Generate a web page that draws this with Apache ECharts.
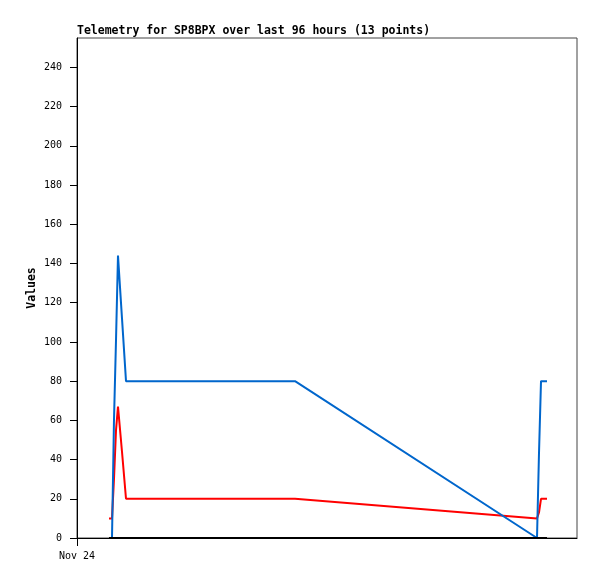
<!DOCTYPE html>
<html>
<head>
<meta charset="utf-8">
<script src="https://cdn.jsdelivr.net/npm/echarts@6/dist/echarts.min.js"></script>
<style>html,body{margin:0;padding:0;background:#fff;}#c{width:597px;height:579px;}</style>
</head>
<body>
<div id="c"></div>
<script>
// Hours since start of axis (Nov 24), 96-hour window
var hoursFromStart = [6.14, 6.72, 7.10, 7.49, 7.87, 8.64, 9.41, 41.86, 88.32, 88.70, 89.09, 89.66, 90.24];
var redValues   = [10, 10, 30, 55, 67, 44, 20, 20, 10, 13, 20, 20, 20];
var blueValues  = [0, 0, 60, 101, 144, 112, 80, 80, 0, 43, 80, 80, 80];
var blackValues = [0, 0, 0, 0, 0, 0, 0, 0, 0, 0, 0, 0, 0];
var yTicks = [0, 20, 40, 60, 80, 100, 120, 140, 160, 180, 200, 220, 240];
var xLabel = 'Nov 24';
var yName = 'Values';

function pairs(vals) { return hoursFromStart.map(function (h, i) { return [h, vals[i]]; }); }

var chart = echarts.init(document.getElementById('c'));
var mono = 'DejaVu Sans Mono';
chart.setOption({
  animation: false,
  backgroundColor: '#fff',
  title: {
    text: 'Telemetry for SP8BPX over last 96 hours (13 points)',
    left: 72, top: 20,
    textStyle: { fontFamily: mono, fontWeight: 'bold', fontSize: 11.5, color: '#000' }
  },
  graphic: [{
    type: 'text', x: 32, y: 288, rotation: Math.PI / 2,
    style: { text: yName, fontFamily: mono, fontWeight: 'bold', fontSize: 11.5, fill: '#000',
      align: 'center', verticalAlign: 'middle' }
  }],
  grid: { left: 77, right: 20, top: 38, bottom: 41, show: true, borderColor: '#444', borderWidth: 1 },
  xAxis: {
    type: 'value', min: 0, max: 96, interval: 96,
    axisLine: { show: true, lineStyle: { color: '#000', width: 1 } },
    axisTick: { show: true, length: 8, lineStyle: { color: '#000' }, customValues: [0] },
    axisLabel: { margin: 13, fontFamily: mono, fontSize: 10, color: '#000', customValues: [0],
      formatter: function (v) { return v === 0 ? xLabel : ''; } },
    splitLine: { show: false }
  },
  yAxis: {
    type: 'value', min: 0, max: 255, interval: 20,
    axisLine: { show: true, lineStyle: { color: '#000', width: 1 } },
    axisTick: { show: true, length: 7, lineStyle: { color: '#000' }, customValues: yTicks },
    axisLabel: { margin: 15, fontFamily: mono, fontSize: 10, color: '#000', customValues: yTicks },
    splitLine: { show: false }
  },
  series: [
    { type: 'line', data: pairs(redValues), showSymbol: false, lineStyle: { color: '#ff0000', width: 2 }, itemStyle: { color: '#ff0000' } },
    { type: 'line', data: pairs(blueValues), showSymbol: false, lineStyle: { color: '#0066cc', width: 2 }, itemStyle: { color: '#0066cc' } },
    { type: 'line', data: pairs(blackValues), showSymbol: false, lineStyle: { color: '#000', width: 2 }, itemStyle: { color: '#000' } }
  ]
});
</script>
</body>
</html>
